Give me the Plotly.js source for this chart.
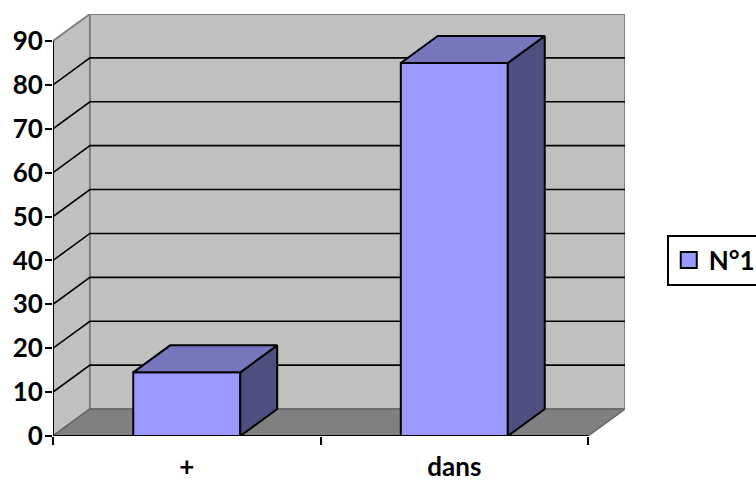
<!DOCTYPE html>
<html>
<head>
<meta charset="utf-8">
<script src="https://cdn.plot.ly/plotly-3.0.1.min.js"></script>
<style>html,body{margin:0;padding:0;background:#fff;overflow:hidden}</style>
</head>
<body>
<div id="chart" style="width:756px;height:482px"></div>
<script>
// Chart data
const categories = ['+', 'dans'];
const seriesName = 'N°1';
const seriesValues = [14.5, 85];
const yTicks = [0, 10, 20, 30, 40, 50, 60, 70, 80, 90];

// Oblique projection of the box: how far the back plane sits from the front one
const depthX = 0.138;
const depthY = 6.15;
const frontX = 2;
const topY = 90;
const barCentres = [0.5, 1.5];
const barWidth = 0.4;

const FILL_FRONT = '#9999ff', FILL_TOP = '#7676bd', FILL_SIDE = '#4e4e80';
const WALL = '#c0c0c0', FLOOR = '#808080', EDGE = '#808080';

function polyPath(pts) {
  return 'M' + pts.map(p => p[0] + ',' + p[1]).join('L') + 'Z';
}
function dataShape(path, fill, lineColor, lineWidth) {
  return {type: 'path', xref: 'x', yref: 'y', layer: 'below', path: path,
          fillcolor: fill, line: {color: lineColor, width: lineWidth}};
}

// Walls, floor and the gridlines that run across them
const shapes = [
  dataShape(polyPath([[depthX, depthY], [frontX + depthX, depthY], [frontX + depthX, topY + depthY], [depthX, topY + depthY]]), WALL, EDGE, 2),
  dataShape(polyPath([[0, 0], [depthX, depthY], [depthX, topY + depthY], [0, topY]]), WALL, EDGE, 2),
  dataShape(polyPath([[0, 0], [frontX, 0], [frontX + depthX, depthY], [depthX, depthY]]), FLOOR, '#666666', 1.5)
];
yTicks.filter(v => v > 0 && v < topY).forEach(v => {
  shapes.push({type: 'path', xref: 'x', yref: 'y', layer: 'below',
    path: `M0,${v}L${depthX},${v + depthY}L${frontX + depthX},${v + depthY}`,
    line: {color: '#000', width: 1.6}});
});

// Side and top faces of each column
function faceTrace(pts, fill) {
  return {type: 'scatter', mode: 'lines', fill: 'toself', fillcolor: fill,
          x: pts.map(p => p[0]), y: pts.map(p => p[1]),
          line: {color: '#000', width: 2}, showlegend: false, hoverinfo: 'skip', cliponaxis: false};
}
const faces = [];
seriesValues.forEach((v, i) => {
  const l = barCentres[i] - barWidth / 2, r = barCentres[i] + barWidth / 2;
  faces.push(faceTrace([[r, 0], [r + depthX, depthY], [r + depthX, v + depthY], [r, v], [r, 0]], FILL_SIDE));
  faces.push(faceTrace([[l, v], [r, v], [r + depthX, v + depthY], [l + depthX, v + depthY], [l, v]], FILL_TOP));
});

const traces = [
  {type: 'bar', x: barCentres, y: seriesValues, width: barWidth,
   marker: {color: FILL_FRONT, line: {color: '#000', width: 2}},
   showlegend: false, hoverinfo: 'y', cliponaxis: false},
  ...faces,
  // Axis lines
  {type: 'scatter', mode: 'lines', x: [0, 0], y: [0, topY], line: {color: '#000', width: 2},
   showlegend: false, hoverinfo: 'skip', cliponaxis: false},
  {type: 'scatter', mode: 'lines', x: [0, frontX], y: [0, 0], line: {color: '#000', width: 2},
   showlegend: false, hoverinfo: 'skip', cliponaxis: false},
  // Legend entry
  {type: 'scatter', mode: 'markers', name: seriesName, x: [null], y: [null], showlegend: true,
   marker: {symbol: 'square', size: 16, color: FILL_FRONT, line: {color: '#000', width: 2}}}
];

const family = 'Lato, "Open Sans", sans-serif';
const labelFont = {family: family, size: 26, color: '#000', weight: 700};
const yTickFont = {family: family, size: 26, color: '#000', weight: 700};

const layout = {
  width: 756, height: 482,
  margin: {l: 53, r: 131, t: 13.5, b: 45.5, pad: 0, autoexpand: false},
  paper_bgcolor: '#fff', plot_bgcolor: 'rgba(0,0,0,0)',
  bargap: 0,
  shapes: shapes,
  xaxis: {
    range: [0, frontX + depthX], showgrid: false, zeroline: false, showline: false,
    tickmode: 'array', tickvals: barCentres, ticktext: categories, ticks: '',
    ticklabelstandoff: 13, tickfont: labelFont, automargin: false,
    minor: {tickmode: 'array', tickvals: [0, 1, 2], ticks: 'outside', ticklen: 8, tickwidth: 2, tickcolor: '#000', showgrid: false}
  },
  yaxis: {
    range: [0, topY + depthY], showgrid: false, zeroline: false, showline: false,
    tickmode: 'array', tickvals: yTicks, ticks: 'outside', ticklen: 7, tickwidth: 2, tickcolor: '#000',
    ticklabelstandoff: -3, tickfont: yTickFont, automargin: false
  },
  legend: {
    x: 1.073, xanchor: 'left', y: 0.417, yanchor: 'middle',
    bgcolor: '#fff', bordercolor: '#000', borderwidth: 2,
    font: {family: family, size: 26, color: '#000', weight: 700}
  },
  showlegend: true
};

Plotly.newPlot('chart', traces, layout, {displayModeBar: false, staticPlot: true});
</script>
</body>
</html>
